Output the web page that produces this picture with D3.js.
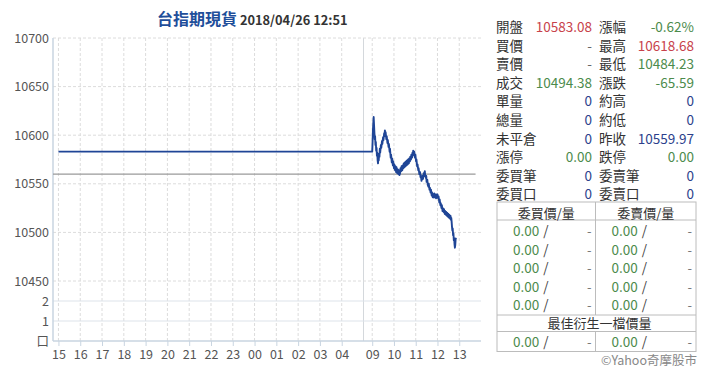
<!DOCTYPE html>
<html>
<head>
<meta charset="utf-8">
<script src="https://cdn.jsdelivr.net/npm/d3@7"></script>
<style>
  body { margin: 0; background: #fff; }
  svg text { font-family: "Noto Sans CJK TC", "Noto Sans", sans-serif; }
</style>
</head>
<body>
<svg id="chart" width="720" height="388"></svg>
<script>
// ##### data #####
var priceTicks = [10450, 10500, 10550, 10600, 10650, 10700];
var volTicks = [1, 2];
var hourTicks = ["15", "16", "17", "18", "19", "20", "21", "22", "23", "00", "01", "02", "03", "04", "09", "10", "11", "12", "13"];
var openPrice = 10583.08;
var prevClose = 10559.97;

// flat open line before the day session
var flatTimes = ["15:00", "05:00", "09:00"];

// [time, price]
var dayQuotes = [
  ["09:00", 10583.08], ["09:01", 10592], ["09:02", 10605], ["09:03", 10612], ["09:04", 10618.68],
  ["09:05", 10611], ["09:06", 10603], ["09:07", 10596], ["09:08", 10599], ["09:09", 10590],
  ["09:10", 10593], ["09:11", 10584], ["09:12", 10587], ["09:13", 10579], ["09:14", 10582],
  ["09:15", 10574], ["09:16", 10571], ["09:17", 10577], ["09:18", 10574], ["09:19", 10581],
  ["09:20", 10578], ["09:21", 10586], ["09:22", 10582], ["09:24", 10590], ["09:25", 10587],
  ["09:27", 10594], ["09:28", 10591], ["09:30", 10598], ["09:31", 10595], ["09:33", 10602],
  ["09:34", 10599], ["09:35", 10605], ["09:36", 10601], ["09:37", 10603], ["09:39", 10596],
  ["09:40", 10599], ["09:42", 10592], ["09:43", 10595], ["09:45", 10588], ["09:46", 10591],
  ["09:48", 10583], ["09:49", 10586], ["09:51", 10577], ["09:52", 10580], ["09:54", 10572],
  ["09:55", 10576], ["09:57", 10569], ["09:58", 10573], ["10:00", 10566], ["10:01", 10570],
  ["10:03", 10564], ["10:04", 10568], ["10:06", 10562], ["10:07", 10567], ["10:09", 10561],
  ["10:10", 10565], ["10:12", 10560], ["10:13", 10564], ["10:15", 10559], ["10:17", 10561],
  ["10:18", 10566], ["10:20", 10563], ["10:21", 10568], ["10:23", 10564], ["10:24", 10569],
  ["10:26", 10566], ["10:27", 10571], ["10:29", 10567], ["10:30", 10572], ["10:32", 10568],
  ["10:33", 10573], ["10:35", 10569], ["10:36", 10574], ["10:38", 10570], ["10:39", 10575],
  ["10:41", 10571], ["10:42", 10576], ["10:44", 10573], ["10:45", 10578], ["10:47", 10575],
  ["10:48", 10580], ["10:50", 10577], ["10:51", 10582], ["10:52", 10579], ["10:53", 10584],
  ["10:55", 10580], ["10:56", 10583], ["10:58", 10577], ["10:59", 10580], ["11:01", 10573],
  ["11:02", 10575], ["11:04", 10568], ["11:05", 10570], ["11:07", 10564], ["11:08", 10566],
  ["11:10", 10560], ["11:12", 10562], ["11:13", 10557], ["11:14", 10559], ["11:16", 10553],
  ["11:17", 10556], ["11:19", 10558], ["11:20", 10555], ["11:22", 10561], ["11:23", 10558],
  ["11:25", 10563], ["11:26", 10559], ["11:28", 10556], ["11:29", 10558], ["11:30", 10552],
  ["11:32", 10554], ["11:33", 10549], ["11:35", 10547], ["11:36", 10550], ["11:38", 10544],
  ["11:39", 10546], ["11:41", 10541], ["11:42", 10544], ["11:44", 10538], ["11:45", 10541],
  ["11:47", 10536], ["11:48", 10539], ["11:50", 10536], ["11:51", 10540], ["11:53", 10536],
  ["11:54", 10539], ["11:56", 10535], ["11:57", 10539], ["11:59", 10536], ["12:00", 10539],
  ["12:02", 10535], ["12:03", 10537], ["12:05", 10531], ["12:06", 10534], ["12:08", 10528],
  ["12:09", 10530], ["12:11", 10525], ["12:12", 10528], ["12:14", 10522], ["12:15", 10525],
  ["12:17", 10521], ["12:18", 10524], ["12:20", 10519], ["12:21", 10522], ["12:23", 10518],
  ["12:24", 10521], ["12:26", 10517], ["12:27", 10520], ["12:29", 10516], ["12:30", 10519],
  ["12:32", 10515], ["12:33", 10518], ["12:35", 10514], ["12:36", 10517], ["12:37", 10513],
  ["12:38", 10515], ["12:39", 10511], ["12:40", 10506], ["12:41", 10502], ["12:42", 10504],
  ["12:43", 10497], ["12:44", 10499], ["12:45", 10492], ["12:46", 10494], ["12:47", 10488],
  ["12:48", 10484.23], ["12:49", 10487], ["12:50", 10493], ["12:51", 10494.38]
];

// quote panel
var quoteLeftLabels = ["開盤", "買價", "賣價", "成交", "單量", "總量", "未平倉", "漲停", "委買筆", "委買口"];
var quoteLeftValues = ["10583.08", "-", "-", "10494.38", "0", "0", "0", "0.00", "0", "0"];
var quoteRightLabels = ["漲幅", "最高", "最低", "漲跌", "約高", "約低", "昨收", "跌停", "委賣筆", "委賣口"];
var quoteRightValues = ["-0.62%", "10618.68", "10484.23", "-65.59", "0", "0", "10559.97", "0.00", "0", "0"];
var bidHeaders = ["委買價/量", "委賣價/量"];
var bidPrices = ["0.00", "0.00", "0.00", "0.00", "0.00"];
var askPrices = ["0.00", "0.00", "0.00", "0.00", "0.00"];
var bestTitle = "最佳衍生一檔價量";

(function() {
  var RED = "#c8424b", GREEN = "#4c8b4c", BLUE = "#2c3f8c", DARK = "#333";
  var leftColors = [RED, "#666", "#666", GREEN, BLUE, BLUE, BLUE, GREEN, BLUE, BLUE];
  var rightColors = [GREEN, RED, GREEN, GREEN, BLUE, BLUE, BLUE, GREEN, BLUE, BLUE];

  // time "HH:MM" -> hour on a running axis (night session then next-day session)
  function toHour(t) {
    var p = t.split(":");
    var h = +p[0] + (+p[1]) / 60;
    if (h < 14.5) h += 24;
    return h;
  }

  var svg = d3.select("#chart");
  var left = 53, right = 481, plotTop = 38, priceBottom = 281, volBottom = 341;

  // break between night (ends 05:00) and day session
  var x = d3.scaleLinear()
    .domain([14.75, 29, 32.6, 38])
    .range([left, 363.5, 363.5, right]);
  var y = d3.scaleLinear().domain([10450, 10700]).range([priceBottom, plotTop]);
  var yVol = d3.scaleLinear().domain([0, 3]).range([volBottom, priceBottom]);

  var tickHours = hourTicks.map(function(h) { return toHour(h + ":00"); });

  // vertical dashed grid
  svg.append("g")
    .selectAll("line")
    .data(tickHours)
    .enter()
    .append("line")
    .attr("x1", function(d) { return x(d); })
    .attr("x2", function(d) { return x(d); })
    .attr("y1", plotTop)
    .attr("y2", volBottom)
    .attr("stroke", "#dcdcdc")
    .attr("stroke-dasharray", "3,2");

  // session break
  svg.append("line")
    .attr("x1", x(29)).attr("x2", x(29))
    .attr("y1", plotTop).attr("y2", volBottom)
    .attr("stroke", "#d4d8dc");

  // price grid
  svg.append("g")
    .selectAll("line")
    .data(priceTicks)
    .enter()
    .append("line")
    .attr("x1", left)
    .attr("x2", right)
    .attr("y1", function(d) { return y(d); })
    .attr("y2", function(d) { return y(d); })
    .attr("stroke", "#dcdcdc")
    .attr("stroke-dasharray", "3,2");

  // volume grid
  svg.append("g")
    .selectAll("line")
    .data(volTicks)
    .enter()
    .append("line")
    .attr("x1", left)
    .attr("x2", right)
    .attr("y1", function(d) { return yVol(d); })
    .attr("y2", function(d) { return yVol(d); })
    .attr("stroke", "#dde3ea");

  // axes
  var yAxis = d3.axisLeft(y).tickValues(priceTicks).tickSize(0).tickPadding(4)
    .tickFormat(d3.format("d"));
  var gy = svg.append("g").attr("transform", "translate(" + left + ",0)").call(yAxis);
  var yVolAxis = d3.axisLeft(yVol).tickValues([0, 1, 2]).tickSize(0).tickPadding(4)
    .tickFormat(function(d) { return d === 0 ? "口" : d; });
  var gv = svg.append("g").attr("transform", "translate(" + left + ",0)").call(yVolAxis);
  [gy, gv].forEach(function(g) {
    g.select(".domain").attr("stroke", "#c9d5e1").attr("stroke-width", 1.5);
    g.selectAll("text").attr("fill", "#555").style("font-size", "12.5px")
      .style("font-family", "'Noto Sans CJK TC', sans-serif");
  });
  gy.select(".domain").attr("d", "M0," + plotTop + "V" + priceBottom);
  gv.select(".domain").attr("d", "M0," + priceBottom + "V" + volBottom);

  var xAxis = d3.axisBottom(x).tickValues(tickHours).tickSize(5).tickPadding(4)
    .tickFormat(function(d, i) { return hourTicks[i]; });
  var gx = svg.append("g").attr("transform", "translate(0," + volBottom + ")").call(xAxis);
  gx.select(".domain").attr("stroke", "#c9d5e1").attr("stroke-width", 1.5)
    .attr("d", "M" + left + ",0H" + right);
  gx.selectAll(".tick line").attr("stroke", "#c9d5e1");
  gx.selectAll("text").attr("fill", "#555").style("font-size", "12.5px")
    .style("font-family", "'Noto Sans CJK TC', sans-serif");

  // previous close reference
  svg.append("line")
    .attr("x1", left)
    .attr("x2", x(toHour("13:45")))
    .attr("y1", y(prevClose))
    .attr("y2", y(prevClose))
    .attr("stroke", "#9a9a9a")
    .attr("stroke-width", 1.3);

  // price line
  var series = flatTimes.map(function(t) { return { t: toHour(t), v: openPrice }; })
    .concat(dayQuotes.map(function(d) { return { t: toHour(d[0]), v: d[1] }; }));
  var line = d3.line()
    .x(function(d) { return x(d.t); })
    .y(function(d) { return y(d.v); });
  svg.append("path")
    .datum(series)
    .attr("d", line)
    .attr("fill", "none")
    .attr("stroke", "#1f4596")
    .attr("stroke-width", 1.9)
    .attr("stroke-linejoin", "round");

  // title
  var title = svg.append("text").attr("x", 157).attr("y", 25);
  title.append("tspan").text("台指期現貨")
    .attr("fill", "#1f4e9a").style("font-size", "16px").style("font-weight", "bold");
  title.append("tspan").text(" 2018/04/26 12:51")
    .attr("fill", "#333").style("font-size", "12.8px").style("font-weight", "bold");

  // quote panel
  var rowH = 18.6;
  var q = svg.append("g").style("font-size", "13.5px");
  quoteLeftLabels.forEach(function(lbl, i) {
    var by = 32 + i * rowH;
    q.append("text").attr("x", 496).attr("y", by).attr("fill", DARK).text(lbl);
    q.append("text").attr("x", 592).attr("y", by).attr("text-anchor", "end")
      .attr("fill", leftColors[i]).text(quoteLeftValues[i]);
    q.append("text").attr("x", 599).attr("y", by).attr("fill", DARK).text(quoteRightLabels[i]);
    q.append("text").attr("x", 694).attr("y", by).attr("text-anchor", "end")
      .attr("fill", rightColors[i]).text(quoteRightValues[i]);
  });

  // order book table
  var tL = 497, tR = 696, tMid = 595.5, tTop = 202, hdrB = 220, bestTop = 315, bestB = 331.5, tB = 351.5;
  var tb = svg.append("g");
  tb.append("rect").attr("x", tL).attr("y", tTop).attr("width", tR - tL).attr("height", tB - tTop)
    .attr("fill", "none").attr("stroke", "#bcbcbc");
  [hdrB, bestTop, bestB].forEach(function(yy) {
    tb.append("line").attr("x1", tL).attr("x2", tR).attr("y1", yy).attr("y2", yy).attr("stroke", "#bcbcbc");
  });
  tb.append("line").attr("x1", tMid).attr("x2", tMid).attr("y1", tTop).attr("y2", bestTop).attr("stroke", "#bcbcbc");
  tb.append("line").attr("x1", tMid).attr("x2", tMid).attr("y1", bestB).attr("y2", tB).attr("stroke", "#bcbcbc");

  bidHeaders.forEach(function(h, i) {
    var cx = i === 0 ? (tL + tMid) / 2 : (tMid + tR) / 2;
    tb.append("text").attr("x", cx).attr("y", 217.5).attr("text-anchor", "middle")
      .attr("fill", DARK).style("font-size", "13px").text(h);
  });

  function bookCell(x0, x1, by, price) {
    var t = tb.append("text").attr("x", x0 + 16).attr("y", by).style("font-size", "13.5px");
    t.append("tspan").attr("fill", GREEN).text(price);
    t.append("tspan").attr("fill", "#444").attr("dx", 4).text("/");
    tb.append("text").attr("x", x1 - 4).attr("y", by).attr("text-anchor", "end")
      .attr("fill", "#777").style("font-size", "13px").text("-");
  }
  bidPrices.forEach(function(p, i) {
    var by = 236 + i * rowH;
    bookCell(tL, tMid, by, p);
    bookCell(tMid, tR, by, askPrices[i]);
  });
  tb.append("text").attr("x", (tL + tR) / 2 + 3).attr("y", 328).attr("text-anchor", "middle")
    .attr("fill", DARK).style("font-size", "13px").text(bestTitle);
  bookCell(tL, tMid, 346.5, bidPrices[0]);
  bookCell(tMid, tR, 346.5, askPrices[0]);

  svg.append("text").attr("x", 697).attr("y", 365).attr("text-anchor", "end")
    .attr("fill", "#888").style("font-size", "12.5px").text("©Yahoo奇摩股市");
})();
</script>
</body>
</html>
